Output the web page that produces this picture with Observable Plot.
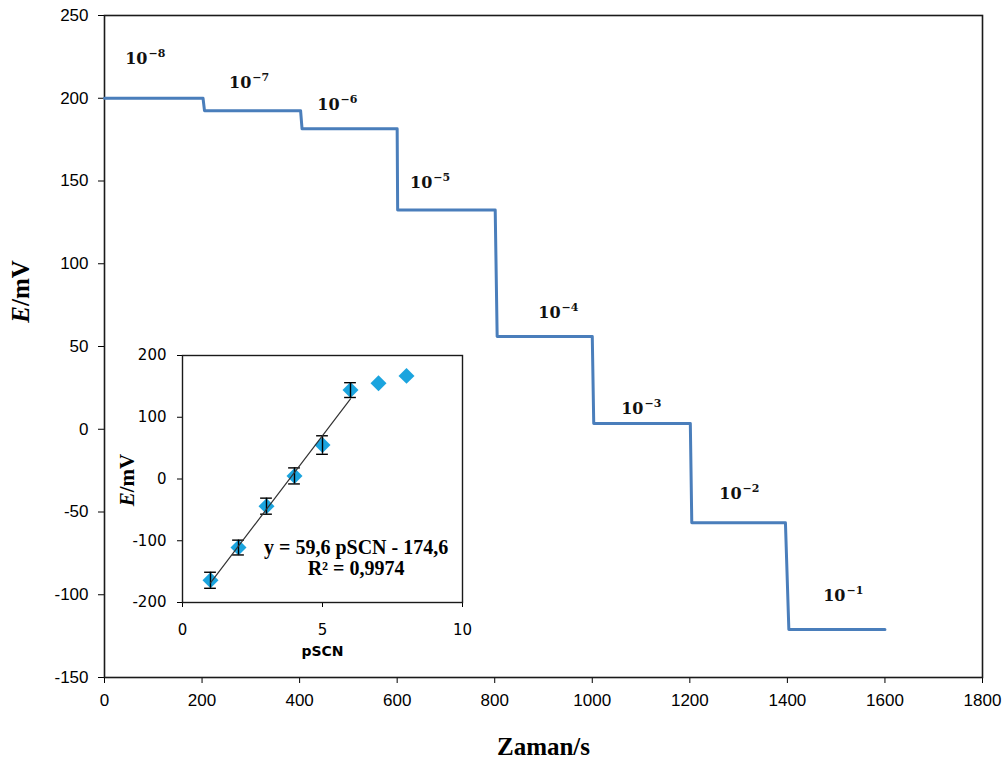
<!DOCTYPE html>
<html><head><meta charset="utf-8">
<script src="https://cdn.jsdelivr.net/npm/d3@7"></script>
<script src="https://cdn.jsdelivr.net/npm/@observablehq/plot@0.6"></script>
<style>
body{margin:0;background:#fff;}
#wrap{position:relative;width:1007px;height:765px;}
#inset{position:absolute;left:100px;top:340px;}
</style></head><body><div id="wrap"><div id="main"></div><div id="inset"></div></div>
<script>
// Main chart: potential vs time (step response)
const timeS = [0, 202, 205, 402, 405, 600, 601, 801, 805, 1000, 1003, 1201, 1204, 1396, 1403, 1600];
const potentialMV = [200, 200, 192.5, 192.5, 181.5, 181.5, 132.5, 132.5, 56, 56, 3.5, 3.5, -56.5, -56.5, -121, -121];
const xTicks = [0, 200, 400, 600, 800, 1000, 1200, 1400, 1600, 1800];
const yTicks = [-150, -100, -50, 0, 50, 100, 150, 200, 250];

// concentration labels
const concExp = ["−8", "−7", "−6", "−5", "−4", "−3", "−2", "−1"];
const concX = [88, 301, 482, 672, 935, 1105, 1306, 1519];
const concY = [220.5, 206, 193, 145.6, 67, 9, -42, -104];

// Inset: calibration
const pSCN = [1, 2, 3, 4, 5, 6, 7, 8];
const insetE = [-164, -111, -44, 5, 55, 144, 155, 167];
const insetErr = [13, 12, 13, 13, 15, 12, null, null];
const insetXTicks = [0, 5, 10];
const insetYTicks = [-200, -100, 0, 100, 200];
const eqLines = ["y = 59,6 pSCN - 174,6", "R² = 0,9974"];
const eqX = [6.2, 6.2];
const eqY = [-121, -156];

const fmt = d => String(d);
const serif = "'Liberation Serif', 'Times New Roman', serif";

const mainData = timeS.map((t, i) => ({t, e: potentialMV[i]}));
const labels = concExp.map((ex, i) => ({ex, x: concX[i], y: concY[i]}));

const mainPlot = Plot.plot({
  width: 1007, height: 765,
  marginLeft: 104, marginRight: 25, marginTop: 15, marginBottom: 88,
  style: {fontFamily: "'Liberation Sans', Arial, sans-serif", fontSize: "17px", color: "#000", background: "#fff", overflow: "visible"},
  x: {domain: [0, 1800], ticks: xTicks, tickSize: 6, tickPadding: 10, tickFormat: fmt, label: null},
  y: {domain: [-150, 250], ticks: yTicks, tickSize: 6, tickPadding: 10, tickFormat: fmt, label: null},
  marks: [
    Plot.frame({stroke: "#1a1a1a", strokeWidth: 1.6}),
    Plot.line(mainData, {x: "t", y: "e", stroke: "#4a7ebb", strokeWidth: 3}),
    Plot.text(labels, {x: "x", y: "y", text: () => "10", textAnchor: "end", lineAnchor: "bottom",
      fontFamily: "'DejaVu Serif', serif", fontWeight: "bold", fontSize: 16, fill: "#111"}),
    Plot.text(labels, {x: "x", y: "y", text: "ex", textAnchor: "start", lineAnchor: "bottom", dx: 1, dy: -7,
      fontFamily: "'DejaVu Serif', serif", fontWeight: "bold", fontSize: 11, fill: "#111"}),
    Plot.text(["Zaman/s"], {frameAnchor: "bottom", text: d => d, textAnchor: "middle", lineAnchor: "bottom", dy: 77,
      fontFamily: serif, fontWeight: "bold", fontSize: 25, fill: "#000"}),
    Plot.text(["E/mV"], {frameAnchor: "left", text: d => d, rotate: -90, textAnchor: "middle", lineAnchor: "middle", dx: -84, dy: -55,
      fontFamily: serif, fontWeight: "bold", fontSize: 25, fill: "#000"})
  ]
});
document.getElementById("main").appendChild(mainPlot);

const pts = pSCN.map((p, i) => ({p, e: insetE[i], err: insetErr[i]}));
const errPts = pts.filter(d => d.err != null);
const eqData = eqLines.map((t, i) => ({t, x: eqX[i], y: eqY[i]}));

const insetPlot = Plot.plot({
  width: 380, height: 330,
  marginLeft: 82, marginRight: 18, marginTop: 15, marginBottom: 68,
  style: {fontFamily: "'DejaVu Sans', Verdana, sans-serif", fontSize: "15px", color: "#000", background: "transparent", overflow: "visible"},
  x: {domain: [0, 10], ticks: insetXTicks, tickSize: 5, tickPadding: 17, tickFormat: fmt, label: null},
  y: {domain: [-200, 200], ticks: insetYTicks, tickSize: 5, tickPadding: 11, tickFormat: fmt, label: null},
  marks: [
    Plot.frame({stroke: "#1a1a1a", strokeWidth: 1.4}),
    Plot.dot(pts, {x: "p", y: "e", symbol: "diamond2", r: 7.2, fill: "#1ba4de", stroke: "none"}),
    Plot.ruleX(errPts, {x: "p", y1: d => d.e - d.err, y2: d => d.e + d.err, stroke: "#000", strokeWidth: 1.4}),
    Plot.ruleY(errPts, {y: d => d.e + d.err, x1: d => d.p - 0.21, x2: d => d.p + 0.21, stroke: "#000", strokeWidth: 1.4}),
    Plot.ruleY(errPts, {y: d => d.e - d.err, x1: d => d.p - 0.21, x2: d => d.p + 0.21, stroke: "#000", strokeWidth: 1.4}),
    Plot.linearRegressionY(errPts, {x: "p", y: "e", ci: 0, stroke: "#333", strokeWidth: 1.2}),
    Plot.text(eqData, {x: "x", y: "y", text: "t", textAnchor: "middle", lineAnchor: "bottom",
      fontFamily: serif, fontWeight: "bold", fontSize: 20, fill: "#000"}),
    Plot.text(["pSCN"], {frameAnchor: "bottom", text: d => d, textAnchor: "middle", lineAnchor: "bottom", dy: 53,
      fontFamily: "'DejaVu Sans', Verdana, sans-serif", fontWeight: "bold", fontSize: 14, fill: "#000"}),
    Plot.text(["E/mV"], {frameAnchor: "left", text: d => d, rotate: -90, textAnchor: "middle", lineAnchor: "middle", dx: -55, dy: 1,
      fontFamily: serif, fontWeight: "bold", fontSize: 21, fill: "#000"})
  ]
});
document.getElementById("inset").appendChild(insetPlot);

// italic E in axis labels
document.querySelectorAll("svg text").forEach(el => {
  if (el.textContent === "E/mV" && el.children.length === 0) {
    el.textContent = "";
    const ns = "http://www.w3.org/2000/svg";
    const a = document.createElementNS(ns, "tspan");
    a.setAttribute("font-style", "italic");
    a.textContent = "E";
    const b = document.createElementNS(ns, "tspan");
    b.textContent = "/mV";
    el.appendChild(a); el.appendChild(b);
  }
});
</script></body></html>
